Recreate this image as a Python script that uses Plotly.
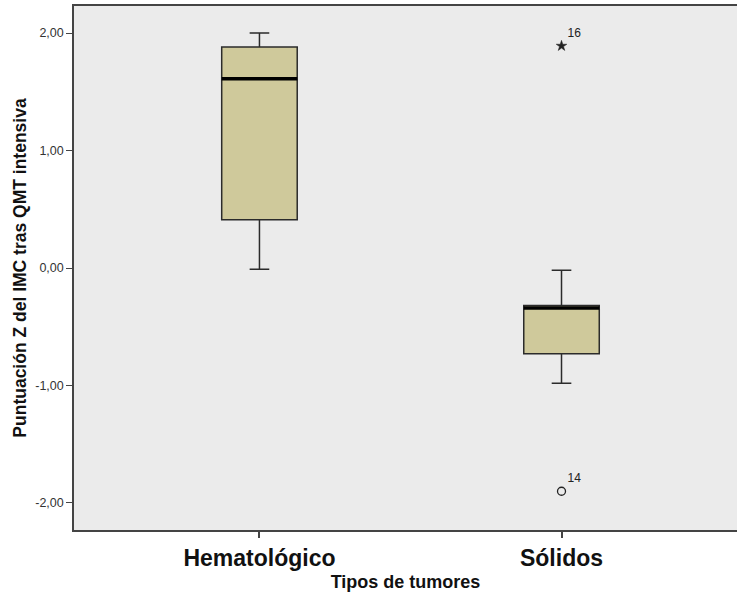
import plotly.graph_objects as go

categories = ["Hematológico", "Sólidos"]
q1 = [0.41, -0.73]
median = [1.61, -0.34]
q3 = [1.88, -0.32]
lower_whisker = [-0.01, -0.98]
upper_whisker = [2.00, -0.02]

extreme_cat = [1]
extreme_val = [1.89]
extreme_id = ["16"]
outlier_cat = [1]
outlier_val = [-1.90]
outlier_id = ["14"]

y_ticks = [-2, -1, 0, 1, 2]
y_tick_labels = ["-2,00", "-1,00", "0,00", "1,00", "2,00"]

BOX_W = 0.25
pos = list(range(len(categories)))

fig = go.Figure()
fig.add_trace(go.Box(
    x=pos, q1=q1, median=median, q3=q3,
    lowerfence=lower_whisker, upperfence=upper_whisker,
    width=BOX_W, whiskerwidth=0.26,
    fillcolor="#cfc99b", line=dict(color="#2b2b2b", width=1.5),
    boxpoints=False, showlegend=False, hoverinfo="skip",
))
for i, m in zip(pos, median):
    fig.add_trace(go.Scatter(
        x=[i - BOX_W / 2, i + BOX_W / 2], y=[m, m], mode="lines",
        line=dict(color="#000000", width=3.5), showlegend=False, hoverinfo="skip",
    ))
fig.add_trace(go.Scatter(
    x=extreme_cat, y=extreme_val, mode="markers+text", text=extreme_id,
    textposition="top right", textfont=dict(size=12, color="#222"),
    marker=dict(symbol="star", size=8, color="#222", line=dict(width=0.5, color="#222")),
    showlegend=False, hoverinfo="skip",
))
fig.add_trace(go.Scatter(
    x=outlier_cat, y=outlier_val, mode="markers+text", text=outlier_id,
    textposition="top right", textfont=dict(size=12, color="#222"),
    marker=dict(symbol="circle-open", size=8, color="#222", line=dict(width=1.3, color="#222")),
    showlegend=False, hoverinfo="skip",
))

fig.update_layout(
    width=737, height=596,
    margin=dict(l=74, r=0, t=6, b=66),
    paper_bgcolor="white", plot_bgcolor="#ebebeb",
    font=dict(family="Liberation Sans, Arial, sans-serif", color="#222"),
)
fig.update_xaxes(
    range=[-0.614, 1.581], tickvals=pos, ticktext=[f"<b>{c}</b>" for c in categories],
    tickfont=dict(size=23, color="#111"), automargin=False,
    ticks="outside", ticklen=6, tickcolor="#444", tickwidth=1.5,
    showline=True, linecolor="#444", linewidth=2, mirror=True,
    showgrid=False, zeroline=False,
    title=dict(text="<b>Tipos de tumores</b>", font=dict(size=18, color="#111"), standoff=6),
)
fig.update_yaxes(
    range=[-2.23, 2.23], tickvals=y_ticks, ticktext=y_tick_labels,
    tickfont=dict(size=12.5, color="#333"), automargin=False,
    ticks="outside", ticklen=6, tickcolor="#444", tickwidth=1.2,
    showline=True, linecolor="#444", linewidth=1.5,
    showgrid=False, zeroline=False,
    title=dict(text="<b>Puntuación Z del IMC tras QMT intensiva</b>", font=dict(size=17.5, color="#111"), standoff=4),
)

fig.write_html("out.html", config={"displayModeBar": False},
               post_script="document.body.style.margin='0';")
